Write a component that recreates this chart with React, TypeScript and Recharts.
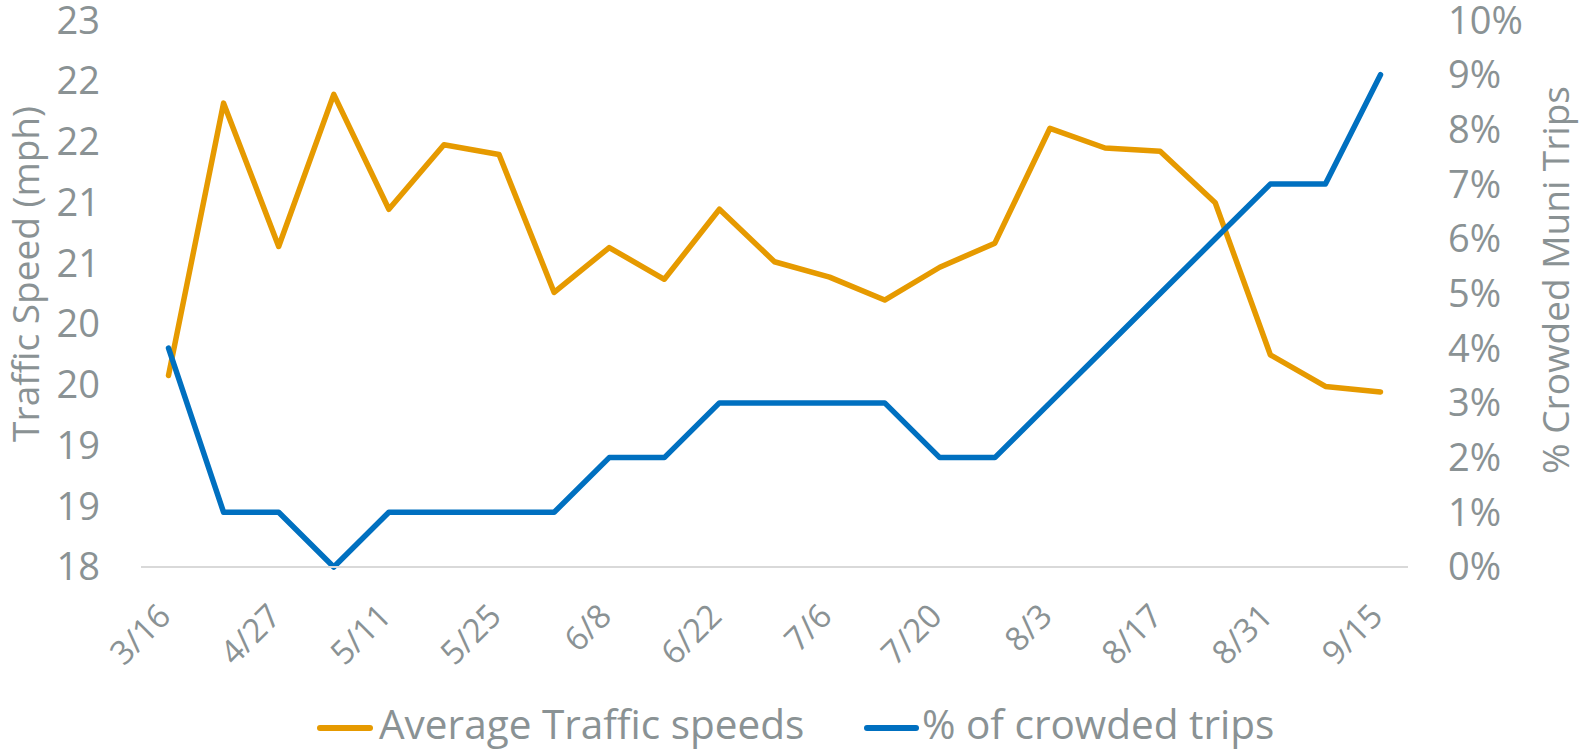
import React from 'react';
import { LineChart, Line, XAxis, YAxis, Legend, Label } from 'recharts';

const dates = ['3/16', '4/20', '4/27', '5/4', '5/11', '5/18', '5/25', '6/1', '6/8', '6/15', '6/22', '6/29', '7/6', '7/13', '7/20', '7/27', '8/3', '8/10', '8/17', '8/24', '8/31', '9/7', '9/15'];
const speeds = [19.75, 22.24, 20.93, 22.32, 21.27, 21.86, 21.77, 20.51, 20.92, 20.63, 21.27, 20.79, 20.65, 20.44, 20.74, 20.96, 22.01, 21.83, 21.8, 21.33, 19.94, 19.65, 19.6];
const crowded = [4, 1, 1, 0, 1, 1, 1, 1, 2, 2, 3, 3, 3, 3, 2, 2, 3, 4, 5, 6, 7, 7, 9];
const leftTicks = [18, 18 + 5 / 9, 18 + 10 / 9, 18 + 15 / 9, 18 + 20 / 9, 18 + 25 / 9, 18 + 30 / 9, 18 + 35 / 9, 18 + 40 / 9, 23];
const rightTicks = [0, 1, 2, 3, 4, 5, 6, 7, 8, 9, 10];
const seriesNames = ['Average Traffic speeds', '% of crowded trips'];
const axisTitles = ['Traffic Speed (mph)', '% Crowded Muni Trips'];

const data = dates.map((d, i) => ({ date: d, speed: speeds[i], crowded: crowded[i] }));

const GRAY = '#8a9294';
const ORANGE = '#E69A00';
const BLUE = '#0070C0';
const FONT = '"Open Sans", sans-serif';

const XTick = (props: any) => {
  const { x, y, payload } = props;
  const ax = x - 4;
  const ay = y + 43;
  return (
    <text x={ax} y={ay} dy="0.35em" textAnchor="end" fill={GRAY} fontSize={33} fontFamily={FONT}
      transform={`rotate(-45, ${ax}, ${ay})`}>
      {payload.value}
    </text>
  );
};

const LeftTick = (props: any) => {
  const { y, payload } = props;
  return (
    <text x={100} y={y} dy="0.355em" textAnchor="end" fill={GRAY} fontSize={38} fontFamily={FONT}>
      {Math.round(payload.value)}
    </text>
  );
};

const RightTick = (props: any) => {
  const { y, payload } = props;
  return (
    <text x={1448} y={y} dy="0.355em" textAnchor="start" fill={GRAY} fontSize={38} fontFamily={FONT}>
      {`${payload.value}%`}
    </text>
  );
};

const LegendContent = () => (
  <svg width={1580} height={50} style={{ display: 'block', overflow: 'visible' }}>
    <line x1={320} x2={370} y1={28} y2={28} stroke={ORANGE} strokeWidth={6} strokeLinecap="round" />
    <text x={379} y={39} fill={GRAY} fontSize={40.5} fontFamily={FONT}>{seriesNames[0]}</text>
    <line x1={867} x2={916} y1={28} y2={28} stroke={BLUE} strokeWidth={6} strokeLinecap="round" />
    <text x={922} y={39} fill={GRAY} fontSize={40.5} fontFamily={FONT}>{seriesNames[1]}</text>
  </svg>
);

export default function App() {
  return (
    <div style={{ position: 'absolute', left: 0, top: 0, width: 1580, height: 750, background: '#fff' }}>
      <LineChart width={1580} height={750} data={data} margin={{ top: 20, right: 0, left: 0, bottom: 0 }}>
        <XAxis dataKey="date" interval={1} tick={<XTick />} tickLine={false} tickSize={0} tickMargin={0}
          axisLine={{ stroke: '#d9d9d9', strokeWidth: 2 }} height={133} padding={{ left: 27.5, right: 27.5 }} />
        <YAxis yAxisId="left" domain={[18, 23]} ticks={leftTicks} interval={0} width={141}
          axisLine={false} tickLine={false} tick={<LeftTick />} allowDataOverflow>
          <Label content={() => (
            <text x={39} y={274} textAnchor="middle" fill={GRAY} fontSize={37} fontFamily={FONT}
              transform="rotate(-90, 39, 274)">{axisTitles[0]}</text>
          )} />
        </YAxis>
        <YAxis yAxisId="right" orientation="right" domain={[0, 10]} ticks={rightTicks} interval={0} width={172}
          axisLine={false} tickLine={false} tick={<RightTick />}>
          <Label content={() => (
            <text x={1569} y={280} textAnchor="middle" fill={GRAY} fontSize={37} fontFamily={FONT}
              transform="rotate(-90, 1569, 280)">{axisTitles[1]}</text>
          )} />
        </YAxis>
        <Line yAxisId="left" type="linear" dataKey="speed" name={seriesNames[0]} stroke={ORANGE} strokeWidth={5.5}
          dot={false} activeDot={false} isAnimationActive={false} strokeLinecap="round" strokeLinejoin="round" />
        <Line yAxisId="right" type="linear" dataKey="crowded" name={seriesNames[1]} stroke={BLUE} strokeWidth={5.5}
          dot={false} activeDot={false} isAnimationActive={false} strokeLinecap="round" strokeLinejoin="round" />
        <Legend verticalAlign="bottom" height={50} content={<LegendContent />}
          wrapperStyle={{ left: 0, width: 1580, height: 50, bottom: 0 }} />
      </LineChart>
    </div>
  );
}
